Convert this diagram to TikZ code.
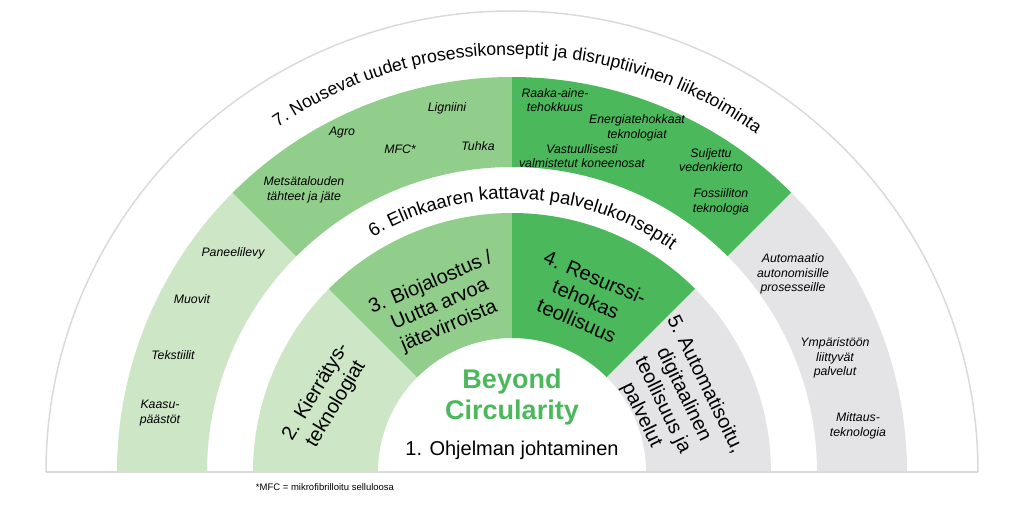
\documentclass[tikz,border=0pt]{standalone}
\usepackage{fontspec}
\setmainfont{Liberation Sans}
\usetikzlibrary{decorations.text}
\definecolor{lgreen}{RGB}{205,230,197}
\definecolor{mgreen}{RGB}{145,206,139}
\definecolor{dgreen}{RGB}{76,184,92}
\definecolor{lgray}{RGB}{228,228,230}
\definecolor{rimgray}{RGB}{218,218,218}
\newcommand\arcfont{\fontsize{17.7}{21}\selectfont}
\newcommand\arcfontb{\fontsize{18.5}{22}\selectfont}

\begin{document}
\begin{tikzpicture}[x=1pt,y=1pt,
        item/.style={font=\fontsize{12.3}{14.5}\selectfont\itshape, align=center, inner sep=0pt},
        seg/.style={font=\fontsize{20}{23.5}\selectfont, align=center, inner sep=0pt}]
        \useasboundingbox (-512,-40) rectangle (512,472);

        % inner and outer rings, four sectors each
        \foreach \a/\c in {180/lgreen,135/mgreen,90/dgreen,45/lgray} {
            \fill[\c] (\a:134) -- (\a:259) arc (\a:\a-45:259) -- (\a-45:134) arc (\a-45:\a:134) -- cycle;
            \fill[\c] (\a:305) -- (\a:395) arc (\a:\a-45:395) -- (\a-45:305) arc (\a-45:\a:305) -- cycle;
        }
        \draw[rimgray, line width=1.5] (-466,0) arc (180:0:466 and 461);
        \draw[rimgray, line width=2] (-466,0) -- (466,0);

        % curved titles
        \path[decorate, decoration={text along path, text align=center,
            text={|\arcfont|7. Nousevat uudet prosessikonseptit ja disruptiivinen liiketoiminta}}]
            (179.2:417) arc (179.2:-0.8:417);
        \path[decorate, decoration={text along path, text align=center,
            text={|\arcfontb|6. Elinkaaren kattavat palvelukonseptit}}]
            (177.5:273) arc (177.5:-2.5:273);

        % centre
        \node[font=\fontsize{27}{31}\selectfont\bfseries, text=dgreen, align=center] (beyond) at (0,75) {Beyond\\Circularity};
        \node[font=\fontsize{20}{23}\selectfont] (ohjelma) at (0,22) {1. Ohjelman johtaminen};

        % inner ring
        \node[seg, rotate=59] (kierr) at (-186,74) {2. Kierrätys-\\teknologiat};
        \node[seg, rotate=23] (bio) at (-72,167) {3. Biojalostus /\\Uutta arvoa\\jätevirroista};
        \node[seg, rotate=-23] (resurssi) at (74,173) {4. Resurssi-\\tehokas\\teollisuus};
        \node[seg, rotate=-64] (auto) at (161,72) {5. Automatisoitu,\\digitaalinen\\teollisuus ja\\palvelut};

        % outer ring items
        \node[item] (paneeli) at (-279,219) {Paneelilevy};
        \node[item] (muovit) at (-320,173) {Muovit};
        \node[item] (tekstiili) at (-339,117) {Tekstiilit};
        \node[item] (kaasu) at (-352,59) {Kaasu-\\päästöt};
        \node[item] (metsa) at (-208,282) {Metsätalouden\\tähteet ja jäte};
        \node[item] (agro) at (-170,339) {Agro};
        \node[item] (mfc) at (-112,323) {MFC*};
        \node[item] (ligniini) at (-65,364) {Ligniini};
        \node[item] (tuhka) at (-34,326) {Tuhka};
        \node[item] (raaka) at (43,372) {Raaka-aine-\\tehokkuus};
        \node[item] (energia) at (125,344) {Energiatehokkaat\\teknologiat};
        \node[item] (vastuu) at (70,316) {Vastuullisesti\\valmistetut koneenosat};
        \node[item] (suljettu) at (199,312) {Suljettu\\vedenkierto};
        \node[item] (fossiili) at (209,270) {Fossiiliton\\teknologia};
        \node[item] (automaatio) at (281,198) {Automaatio\\autonomisille\\prosesseille};
        \node[item] (ympa) at (323,114) {Ympäristöön\\liittyvät\\palvelut};
        \node[item] (mittaus) at (346,46) {Mittaus-\\teknologia};

        \node[font=\fontsize{9.5}{11}\selectfont] (note) at (-187,-15) {*MFC = mikrofibrilloitu selluloosa};
    \end{tikzpicture}
\end{document}
